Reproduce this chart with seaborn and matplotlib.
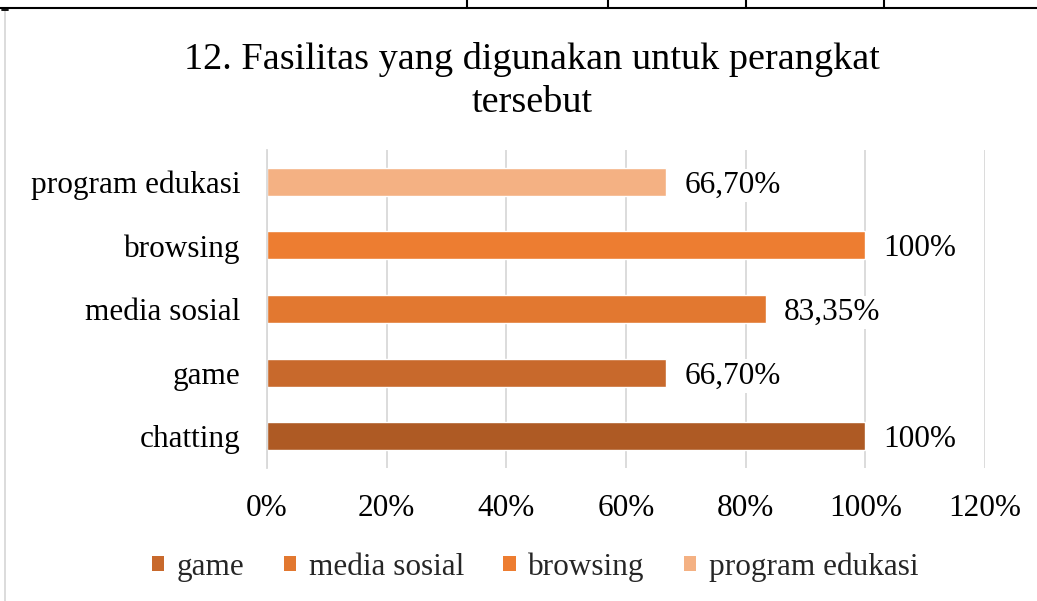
import matplotlib
matplotlib.use("Agg")
import matplotlib.pyplot as plt
from matplotlib.lines import Line2D
from matplotlib.patches import Patch
import seaborn as sns
import pandas as pd
import numpy as np

categories = ["program edukasi", "browsing", "media sosial", "game", "chatting"]
values = [66.70, 100, 83.35, 66.70, 100]
colors = ["#F4B183", "#ED7D31", "#E27830", "#C8692C", "#AE5A24"]
xticks = [0, 20, 40, 60, 80, 100, 120]
legend_items = ["game", "media sosial", "browsing", "program edukasi"]
title = "12. Fasilitas yang digunakan untuk perangkat\ntersebut"

sns.set_theme(style="white")
plt.rcParams['font.family'] = ['Liberation Serif', 'DejaVu Serif']

df = pd.DataFrame({"cat": categories, "val": values})
pal = dict(zip(categories, colors))

fig = plt.figure(figsize=(10.37, 6.01), dpi=100)
ax = fig.add_axes([267/1037, 1-468/601, (985-267)/1037, (468-150)/601])

sns.barplot(data=df, y="cat", x="val", hue="cat", palette=pal, dodge=False,
            legend=False, width=0.44, ax=ax, order=categories, saturation=1,
            zorder=2)

ax.set_xlim(0, 120)
ax.set_ylim(len(categories)-0.5, -0.5)
ax.set_xticks(xticks)
ax.set_xticklabels([f"{t}%" for t in xticks])
ax.set_xlabel("")
ax.set_ylabel("")
ax.xaxis.grid(True, color="#D9D9D9", linewidth=1.3, zorder=0)
ax.set_axisbelow(True)
for s in ["top", "right", "bottom"]:
    ax.spines[s].set_visible(False)
ax.spines["left"].set_color("#D9D9D9")
ax.spines["left"].set_linewidth(1.3)
ax.tick_params(axis="x", length=0, pad=19, labelsize=22.5, colors="black")
ax.tick_params(axis="y", which="major", length=0, pad=19, labelsize=22.5, colors="black")
ax.set_yticks(np.arange(-0.5, len(categories)), minor=True)
ax.tick_params(axis="y", which="minor", length=8, width=1.3, color="#D9D9D9")

for i, v in enumerate(values):
    lab = f"{v:.0f}%" if float(v).is_integer() else f"{v:.2f}%".replace(".", ",")
    ax.annotate(lab, xy=(v, i), xytext=(13, 0), textcoords="offset points",
                va="center_baseline", ha="left", fontsize=22.5, color="black",
                bbox=dict(facecolor="white", edgecolor="none", pad=1.5),
                zorder=5)

fig.text(532/1037, 1-81/601, title, ha="center", va="center",
         fontsize=27.5, color="black", linespacing=1.32)

handles = [Patch(facecolor=pal[c], edgecolor="none") for c in legend_items]
fig.legend(handles, legend_items, loc="center", bbox_to_anchor=(535/1037, 1-567/601),
           ncol=4, frameon=False, fontsize=22.5, handlelength=0.4, handleheight=0.4,
           handletextpad=0.4, columnspacing=1.25)

# surrounding document lines
fig.add_artist(Line2D([0, 1], [1-8/601, 1-8/601], color="black", linewidth=1.5))
for xp in [467, 608, 746, 884]:
    fig.add_artist(Line2D([xp/1037, xp/1037], [1, 1-8/601], color="black", linewidth=1.5))
fig.add_artist(Line2D([5/1037, 5/1037], [1-10/601, 0], color="#D9D9D9", linewidth=1.3))
fig.add_artist(Line2D([2/1037, 8/1037], [1-10/601, 1-10/601], color="black", linewidth=1.3))

fig.savefig("out.png", dpi=100)
